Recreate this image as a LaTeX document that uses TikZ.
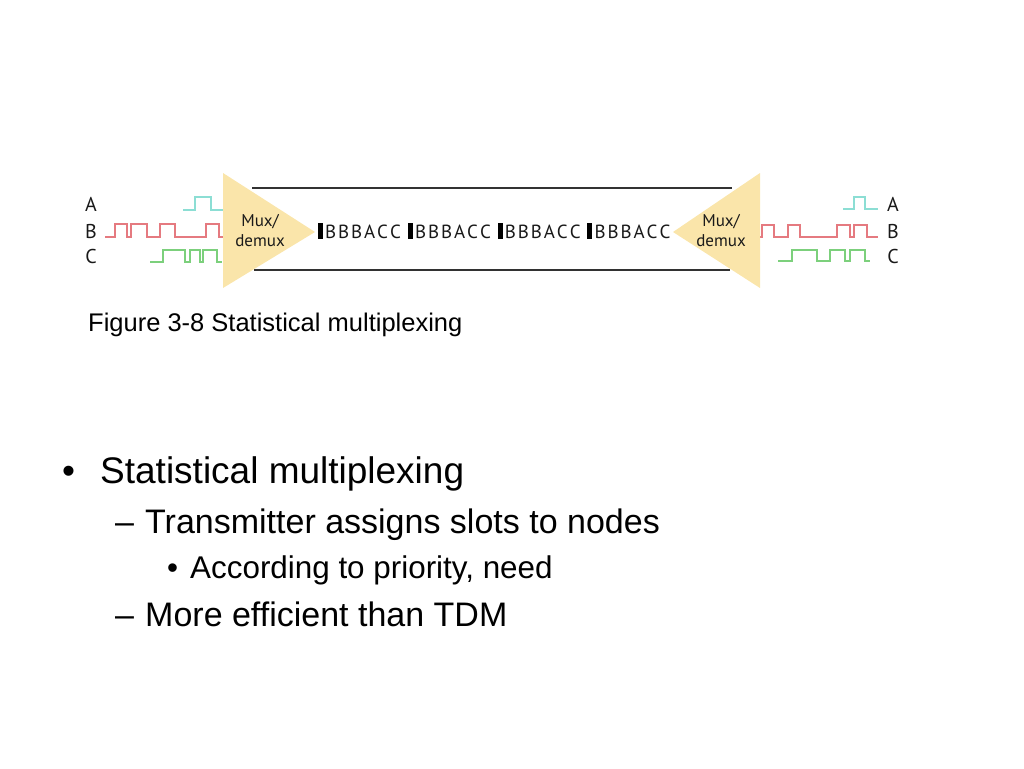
\documentclass[tikz,border=0pt]{standalone}
\usepackage{fontspec}
\setmainfont{Liberation Sans}
\newfontfamily\muxfont{PT Sans}

\definecolor{muxYellow}{RGB}{250,229,170}
\definecolor{sigCyan}{RGB}{140,222,212}
\definecolor{sigRed}{RGB}{229,122,128}
\definecolor{sigGreen}{RGB}{124,208,124}
\definecolor{chanGray}{RGB}{50,50,50}

\begin{document}
\begin{tikzpicture}[x = 1pt, y = -1pt]
\tikzstyle{muxStyle} = [fill = muxYellow]
\tikzstyle{chanStyle} = [draw = chanGray, line width = 1.5pt]
\tikzstyle{sigStyle} = [line width = 1.4pt]
\tikzstyle{chLabelStyle} = [inner sep = 0pt, font = \muxfont\fontsize{20}{22}\selectfont, text = black!90]
\tikzstyle{muxTextStyle} = [inner sep = 0pt, align = center, font = \muxfont\fontsize{17}{20}\selectfont, text = black!90]
\tikzstyle{slotStyle} = [inner sep = 0pt, anchor = base west, font = \muxfont\fontsize{19}{20}\selectfont, text = black!90]
\tikzstyle{barStyle} = [fill = black]
\tikzstyle{captionStyle} = [inner sep = 0pt, anchor = base west, font = \fontsize{25.5}{30}\selectfont]
\tikzstyle{levelOneStyle} = [inner sep = 0pt, anchor = base west, font = \fontsize{37}{44}\selectfont]
\tikzstyle{levelTwoStyle} = [inner sep = 0pt, anchor = base west, font = \fontsize{34}{40}\selectfont]
\tikzstyle{levelThreeStyle} = [inner sep = 0pt, anchor = base west, font = \fontsize{31.4}{36}\selectfont]
\useasboundingbox (0,0) rectangle (1024,768);

% input signals
\draw[sigStyle, sigCyan] (183,210) -| (195,197) -| (211,210) -- (224,210);
\draw[sigStyle, sigRed] (105,237) -| (115,224) -| (127,237) -| (131,224) -| (147,237) -| (160,224) -| (175,237) -| (206,224) -| (219,237) -- (224,237);
\draw[sigStyle, sigGreen] (150,262) -| (163,250) -| (185,262) -| (190,250) -| (200,262) -| (203,250) -| (217,262) -- (222,262);

% output signals
\draw[sigStyle, sigCyan] (843,209) -| (854,197) -| (865,209) -- (878,209);
\draw[sigStyle, sigRed] (759,237) -| (762,225) -| (774,237) -| (788,225) -| (800,237) -| (837,225) -| (850,237) -| (854,225) -| (867,237) -- (878,237);
\draw[sigStyle, sigGreen] (778,261) -| (792,250) -| (817,261) -| (830,250) -| (845,261) -| (850,250) -| (865,261) -- (870,261);

% mux / demux
\fill[muxStyle] (223,173) -- (315,232) -- (223,288) -- cycle;
\fill[muxStyle] (760,173) -- (673,232) -- (760,288) -- cycle;
\node[muxTextStyle] (muxL) at (260,231) {Mux/\\demux};
\node[muxTextStyle] (muxR) at (721,231) {Mux/\\demux};

% channel
\coordinate (chTopL) at (252,188);
\coordinate (chTopR) at (732,188);
\coordinate (chBotL) at (254,270);
\coordinate (chBotR) at (730,270);
\draw[chanStyle] (chTopL) -- (chTopR);
\draw[chanStyle] (chBotL) -- (chBotR);

% slots
\foreach \g in {0,...,3} {
  \fill[barStyle] ({318+89.8*\g},223) rectangle ++(5,16);
  \foreach \c [count=\k] in {B,B,B,A,C,C}
    \node[slotStyle] (slot\g\k) at ({318+89.8*\g+7+13*(\k-1)},238) {\c};
}

% channel labels
\node[chLabelStyle] (inA) at (91,204) {A};
\node[chLabelStyle] (inB) at (91,231) {B};
\node[chLabelStyle] (inC) at (91,256) {C};
\node[chLabelStyle] (outA) at (893,204) {A};
\node[chLabelStyle] (outB) at (893,231) {B};
\node[chLabelStyle] (outC) at (893,256) {C};

\node[captionStyle] (caption) at (88,331) {Figure 3-8 Statistical multiplexing};

% bullets
\node[levelOneStyle] (b1) at (62,483) {•};
\node[levelOneStyle] (t1) at (100,483) {Statistical multiplexing};
\node[levelTwoStyle] (b2) at (115,533) {–};
\node[levelTwoStyle] (t2) at (145,533) {Transmitter assigns slots to nodes};
\node[levelThreeStyle] (b3) at (167,578) {•};
\node[levelThreeStyle] (t3) at (190,578) {According to priority, need};
\node[levelTwoStyle] (b4) at (115,626) {–};
\node[levelTwoStyle] (t4) at (145,626) {More efficient than TDM};
\end{tikzpicture}
\end{document}
